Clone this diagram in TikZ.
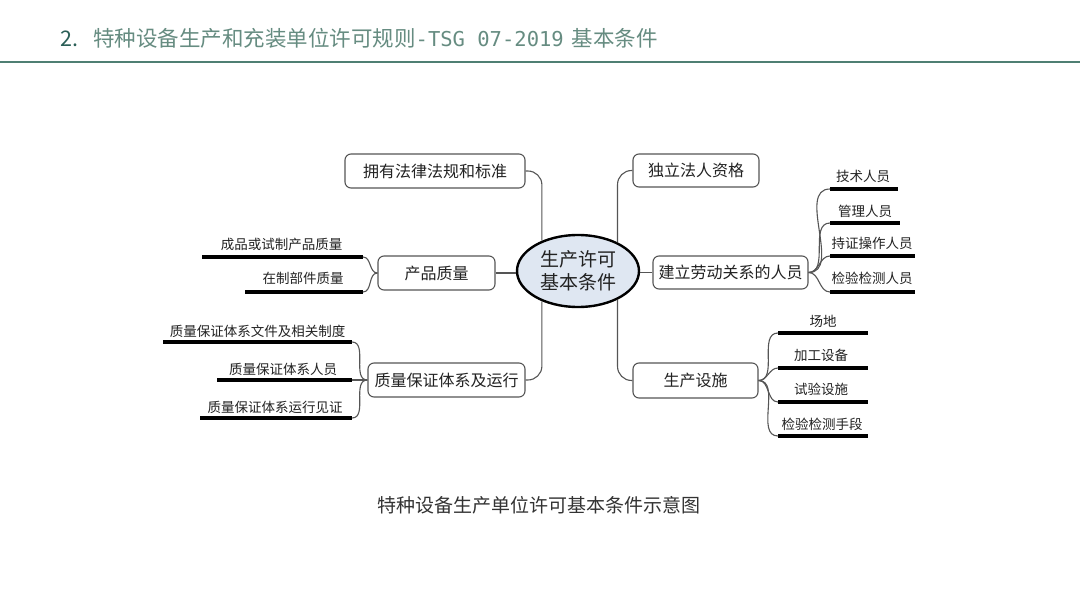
\documentclass[tikz,border=0pt]{standalone}
\usepackage{fontspec}
\setmainfont{Noto Sans CJK SC}
\newfontfamily\cjk{Noto Sans CJK SC}
\newfontfamily\titlemono{DejaVu Sans Mono}
\usetikzlibrary{shapes.geometric}
\definecolor{titleteal}{HTML}{2B5F57}
\definecolor{titlegray}{HTML}{668C81}
\definecolor{ruleteal}{HTML}{4F7F73}
\definecolor{coreblue}{HTML}{DFE7F2}
\definecolor{linkgray}{HTML}{555555}
\definecolor{txt}{HTML}{222222}
\tikzset{
  box/.style={draw=linkgray, line width=1.1pt, rounded corners=6pt, fill=white,
    inner sep=0pt, font=\cjk\fontsize{16}{18}\selectfont, text=txt},
  core/.style={ellipse, draw=black, line width=2.4pt, fill=coreblue, inner sep=0pt,
    minimum width=122pt, minimum height=72pt, align=center,
    font=\cjk\fontsize{19}{23}\selectfont, text=txt},
  leaftext/.style={inner sep=0pt, font=\cjk\fontsize{13.5}{15}\selectfont, text=txt},
  leafline/.style={line width=3.6pt, black},
  link/.style={draw=linkgray, line width=1.1pt},
}
\begin{document}
\begin{tikzpicture}[x=1pt,y=-1pt]
\useasboundingbox[fill=white] (0,0) rectangle (1080,607);
% title
\node[anchor=west, inner sep=0pt, font=\cjk\fontsize{21.5}{24}\selectfont, text=titlegray] (title) at (60,38)
  {\makebox[33pt][l]{\textcolor{titleteal}{2.}}特种设备生产和充装单位许可规则{\titlemono\fontsize{20.5}{24}\selectfont -TSG 07-2019}\hspace{8pt}基本条件};
\coordinate (ruleL) at (0,62);
\coordinate (ruleR) at (1080,62);
\draw[ruleteal, line width=1.8pt] (ruleL) -- (ruleR);

% core
\node[core] (core) at (578,271) {生产许可\\基本条件};

% boxes
\node[box, minimum width=180pt, minimum height=34pt] (b1) at (435,171) {拥有法律法规和标准};
\node[box, minimum width=117pt, minimum height=34pt] (pq) at (436.5,273) {产品质量};
\node[box, minimum width=157pt, minimum height=34pt] (qa) at (446.5,380) {质量保证体系及运行};
\node[box, minimum width=126pt, minimum height=33pt] (fr) at (696,170.5) {独立法人资格};
\node[box, minimum width=155pt, minimum height=33pt] (hr) at (730.5,272.5) {建立劳动关系的人员};
\node[box, minimum width=125pt, minimum height=35pt] (ss) at (695.5,380.5) {生产设施};

% main links
\draw[link, rounded corners=14pt] (core.140) |- (b1.east);
\draw[link, rounded corners=14pt] (core.36) |- (fr.west);
\draw[link, rounded corners=14pt] (core.-140) |- (qa.east);
\draw[link, rounded corners=14pt] (core.-36) |- (ss.west);
\draw[link] (pq.east) -- (pq.east -| core.west);
\draw[link] (hr.west) -- (hr.west -| core.east);

% leaves: product quality
\coordinate (p1a) at (202,257); \coordinate (p1b) at (363,257);
\coordinate (p2a) at (245,292); \coordinate (p2b) at (363,292);
\draw[leafline] (p1a) -- (p1b);
\draw[leafline] (p2a) -- (p2b);
\node[leaftext] (p1t) at (281.5,244) {成品或试制产品质量};
\node[leaftext] (p2t) at (303,278) {在制部件质量};
\draw[link] (pq.west) to[out=180,in=0] (p1b);
\draw[link] (pq.west) to[out=180,in=0] (p2b);

% leaves: quality assurance
\coordinate (q1a) at (163,342); \coordinate (q1b) at (352,342);
\coordinate (q2a) at (217,380); \coordinate (q2b) at (352,380);
\coordinate (q3a) at (200,418); \coordinate (q3b) at (352,418);
\draw[leafline] (q1a) -- (q1b);
\draw[leafline] (q2a) -- (q2b);
\draw[leafline] (q3a) -- (q3b);
\node[leaftext] (q1t) at (257.5,331) {质量保证体系文件及相关制度};
\node[leaftext] (q2t) at (283,369) {质量保证体系人员};
\node[leaftext] (q3t) at (275,407) {质量保证体系运行见证};
\draw[link] (qa.west) to[out=180,in=0] (q1b);
\draw[link] (qa.west) -- (q2b);
\draw[link] (qa.west) to[out=180,in=0] (q3b);

% leaves: personnel
\coordinate (r1a) at (830,189); \coordinate (r1b) at (898,189);
\coordinate (r2a) at (830,223); \coordinate (r2b) at (900,223);
\coordinate (r3a) at (830,256); \coordinate (r3b) at (915,256);
\coordinate (r4a) at (830,292); \coordinate (r4b) at (915,292);
\draw[leafline] (r1a) -- (r1b);
\draw[leafline] (r2a) -- (r2b);
\draw[leafline] (r3a) -- (r3b);
\draw[leafline] (r4a) -- (r4b);
\node[leaftext] (r1t) at (863,176) {技术人员};
\node[leaftext] (r2t) at (865,211) {管理人员};
\node[leaftext] (r3t) at (872,243) {持证操作人员};
\node[leaftext] (r4t) at (872,278) {检验检测人员};
\draw[link] (hr.east) to[out=0,in=180] (r1a);
\draw[link] (hr.east) to[out=0,in=180] (r2a);
\draw[link] (hr.east) to[out=0,in=180] (r3a);
\draw[link] (hr.east) to[out=0,in=180] (r4a);

% leaves: facilities
\coordinate (s1a) at (778,333); \coordinate (s1b) at (868,333);
\coordinate (s2a) at (778,368); \coordinate (s2b) at (868,368);
\coordinate (s3a) at (778,402); \coordinate (s3b) at (868,402);
\coordinate (s4a) at (778,436); \coordinate (s4b) at (868,436);
\draw[leafline] (s1a) -- (s1b);
\draw[leafline] (s2a) -- (s2b);
\draw[leafline] (s3a) -- (s3b);
\draw[leafline] (s4a) -- (s4b);
\node[leaftext] (s1t) at (823,321) {场地};
\node[leaftext] (s2t) at (821,355) {加工设备};
\node[leaftext] (s3t) at (821,389) {试验设施};
\node[leaftext] (s4t) at (822,424) {检验检测手段};
\draw[link] (ss.east) to[out=0,in=180] (s1a);
\draw[link] (ss.east) to[out=0,in=180] (s2a);
\draw[link] (ss.east) to[out=0,in=180] (s3a);
\draw[link] (ss.east) to[out=0,in=180] (s4a);

% caption
\node[inner sep=0pt, font=\cjk\fontsize{19}{21}\selectfont, text=black!80] (cap) at (539,505) {特种设备生产单位许可基本条件示意图};
\end{tikzpicture}
\end{document}
